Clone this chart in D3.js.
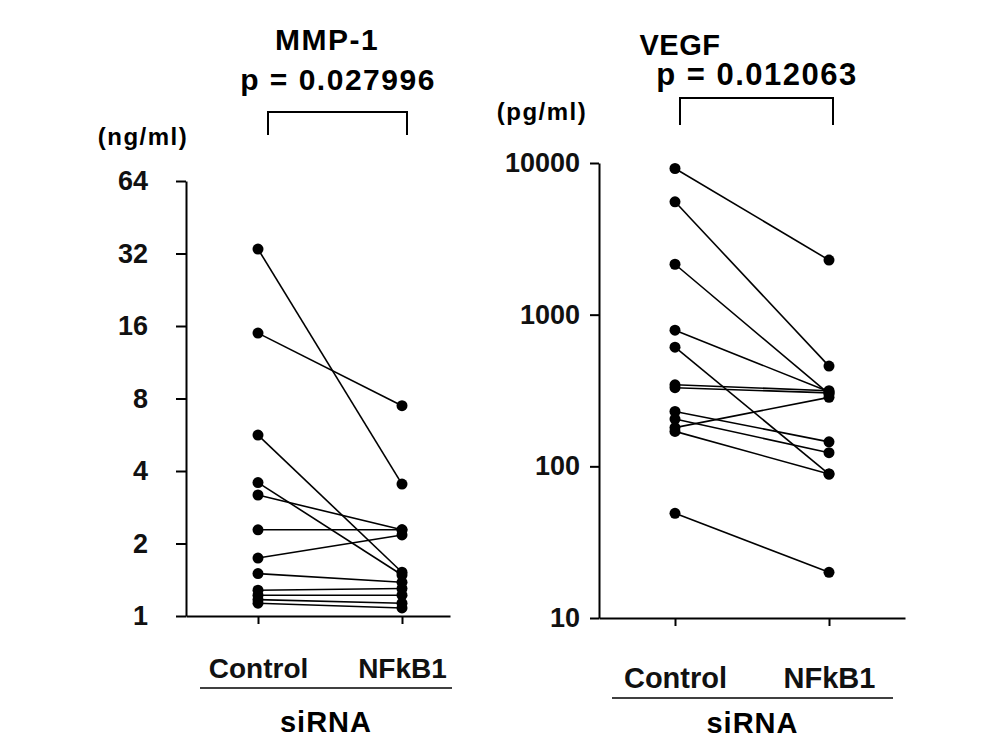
<!DOCTYPE html>
<html><head><meta charset="utf-8">
<script src="https://cdn.jsdelivr.net/npm/d3@7"></script>
<style>
html,body{margin:0;padding:0;background:#fff;}
svg{display:block;font-family:"Liberation Sans",Arial,sans-serif;font-weight:bold;}
</style></head>
<body>
<svg id="c" width="1004" height="752"></svg>
<script>
// ---- data ----
const groups = ["Control", "NFkB1"];
const mmpControl = [33.4, 14.95, 5.64, 3.58, 3.18, 2.28, 1.74, 1.50, 1.28, 1.22, 1.17, 1.13];
const mmpNFkB1   = [3.53, 7.47, 1.52, 1.48, 2.28, 2.28, 2.17, 1.38, 1.30, 1.22, 1.13, 1.08];
const mmpTicks = [1, 2, 4, 8, 16, 32, 64];
const vegfControl = [9200, 5550, 2150, 790, 610, 345, 330, 230, 205, 180, 170, 49];
const vegfNFkB1   = [2290, 458, 300, 310, 89, 315, 305, 145, 123, 285, 89, 20];
const vegfTicks = [10, 100, 1000, 10000];
const mmpTitle = "MMP-1", mmpP = "p = 0.027996", mmpUnit = "(ng/ml)";
const vegfTitle = "VEGF", vegfP = "p = 0.012063", vegfUnit = "(pg/ml)";
const xTitle = "siRNA";

const svg = d3.select("#c");

function panel(o) {
  const g = svg.append("g");
  const x = d3.scalePoint().domain(groups).range(o.xr).padding(o.pad).align(o.align);
  const y = d3.scaleLog().base(o.base).domain(o.dom).range(o.yr);

  // y axis
  const ya = g.append("g").attr("transform", `translate(${o.xr[0]},0)`)
    .call(d3.axisLeft(y).tickValues(o.ticks).tickFormat(d3.format("d"))
      .tickSize(o.tick).tickSizeOuter(0).tickPadding(o.tpad));
  ya.selectAll("path,line").attr("stroke", "#000").attr("stroke-width", 2);
  ya.selectAll("text").attr("font-size", 27).attr("font-weight", "bold")
    .attr("font-family", "Liberation Sans, Arial, sans-serif").attr("fill", "#111");

  // x axis
  const xa = g.append("g").attr("transform", `translate(0,${o.yr[0]})`)
    .call(d3.axisBottom(x).tickSize(8).tickSizeOuter(0).tickPadding(o.xpad));
  xa.selectAll("path,line").attr("stroke", "#000").attr("stroke-width", 2);
  xa.selectAll("text").attr("font-size", o.xfs).attr("font-weight", "bold")
    .attr("font-family", "Liberation Sans, Arial, sans-serif").attr("fill", "#111");

  // paired lines
  const pairs = o.a.map((v, i) => [v, o.b[i]]);
  g.selectAll("line.pair").data(pairs).enter().append("line")
    .attr("class", "pair")
    .attr("x1", x(groups[0])).attr("x2", x(groups[1]))
    .attr("y1", d => y(d[0])).attr("y2", d => y(d[1]))
    .attr("stroke", "#000").attr("stroke-width", 1.6);
  const pts = [];
  pairs.forEach(d => { pts.push([groups[0], d[0]]); pts.push([groups[1], d[1]]); });
  g.selectAll("circle").data(pts).enter().append("circle")
    .attr("cx", d => x(d[0])).attr("cy", d => y(d[1])).attr("r", 5.5).attr("fill", "#000");

  // titles
  g.append("text").attr("x", o.tx).attr("y", o.ty).attr("text-anchor", "middle")
    .attr("font-size", o.tfs).attr("letter-spacing", o.tls).text(o.title);
  g.append("text").attr("x", o.px).attr("y", o.py).attr("text-anchor", "middle")
    .attr("font-size", o.pfs).attr("letter-spacing", 1.5).text(o.p);
  // bracket
  const bx1 = x(groups[0]) + o.bo1, bx2 = x(groups[1]) + o.bo2;
  g.append("path").attr("d", `M${bx1},${o.by2}V${o.by1}H${bx2}V${o.by2}`)
    .attr("fill", "none").attr("stroke", "#000").attr("stroke-width", 2);
  // unit
  g.append("text").attr("x", o.ux).attr("y", o.uy).attr("text-anchor", "middle")
    .attr("font-size", 24).attr("letter-spacing", 1.5).text(o.unit);
  // siRNA underline + label
  g.append("line").attr("x1", o.sx1).attr("x2", o.sx2).attr("y1", o.sy).attr("y2", o.sy)
    .attr("stroke", "#000").attr("stroke-width", 1.5);
  g.append("text").attr("x", (o.sx1 + o.sx2) / 2).attr("y", o.sty).attr("text-anchor", "middle")
    .attr("font-size", 29).attr("letter-spacing", 1).text(xTitle);
}

panel({
  xr: [186, 450], pad: 0.4167, align: 0.6, base: 2, dom: [1, 64], yr: [616, 181],
  ticks: mmpTicks, tick: 10, tpad: 28, xpad: 34, xfs: 28,
  a: mmpControl, b: mmpNFkB1,
  title: mmpTitle, tx: 327, ty: 50, tfs: 30, tls: 1.5, p: mmpP, px: 338, py: 90, pfs: 30,
  bo1: 10, bo2: 5, by1: 112, by2: 135,
  unit: mmpUnit, ux: 143, uy: 145,
  sx1: 200, sx2: 452, sy: 688, sty: 732
});
panel({
  xr: [599, 905], pad: 0.4935, align: 0.5, base: 10, dom: [10, 10000], yr: [618, 163],
  ticks: vegfTicks, tick: 9, tpad: 10, xpad: 41, xfs: 29,
  a: vegfControl, b: vegfNFkB1,
  title: vegfTitle, tx: 680, ty: 55, tfs: 29, tls: 0.5, p: vegfP, px: 757, py: 85, pfs: 31,
  bo1: 5, bo2: 4, by1: 98, by2: 125,
  unit: vegfUnit, ux: 542, uy: 120,
  sx1: 612, sx2: 893, sy: 698, sty: 733
});
</script>
</body></html>
